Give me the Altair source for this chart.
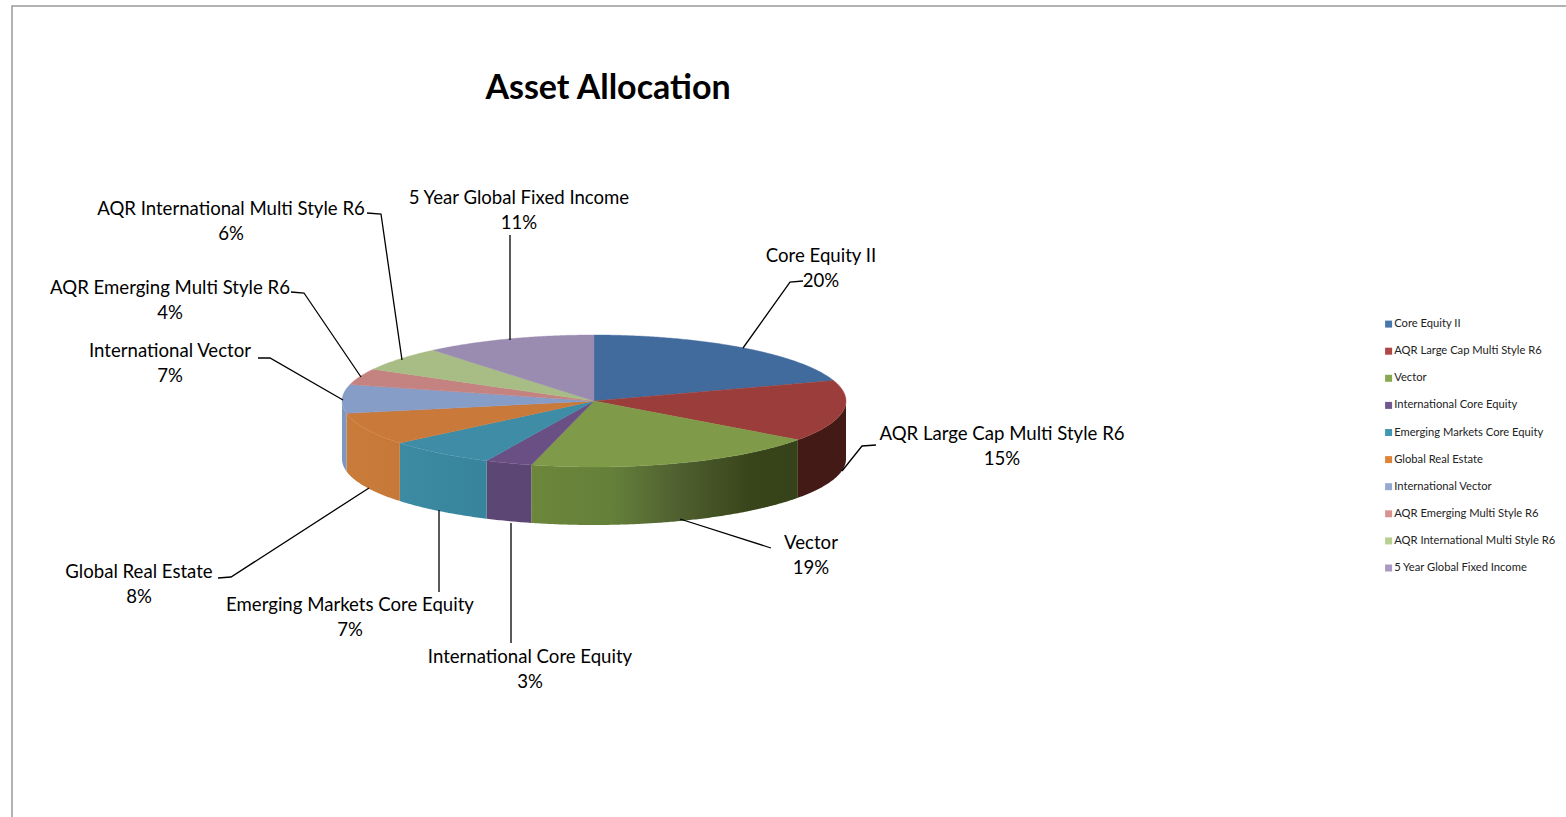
import math
import altair as alt
import pandas as pd

FUNDS = ["Core Equity II", "AQR Large Cap Multi Style R6", "Vector", "International Core Equity",
         "Emerging Markets Core Equity", "Global Real Estate", "International Vector",
         "AQR Emerging Multi Style R6", "AQR International Multi Style R6", "5 Year Global Fixed Income"]
SHARES = [20, 15, 19, 3, 7, 8, 7, 4, 6, 11]

TOP_COLORS = ["#416a9d", "#9b3e3b", "#7f9a48", "#6a4f85", "#3e8ca5",
              "#c9793a", "#859dc7", "#c48280", "#a8bd85", "#998cb0"]
WALL_STOPS = {
    1: [(0, "#441a17"), (1, "#441a17")],
    2: [(0, "#6c863a"), (0.3, "#65803a"), (0.55, "#4f6030"), (0.82, "#38451a"), (1, "#36431a")],
    3: [(0, "#5c4674"), (1, "#5c4674")],
    4: [(0, "#3c8ba3"), (1, "#37849c")],
    5: [(0, "#c97c3a"), (1, "#c67838")],
    6: [(0, "#7e97bf"), (1, "#7e97bf")],
}
LEGEND_COLORS = ["#4a77ab", "#ae4745", "#8aa851", "#72588f", "#4298b0",
                 "#de8439", "#95a9cf", "#d79490", "#b7cf93", "#a99bc1"]

# Disc geometry in page pixels
CX, CY, RX, RY, DEPTH = 594, 401, 252, 66, 58
W, H = 1566, 817


def rim(angle, drop=0):
    a = math.radians(angle)
    return [CX + RX * math.sin(a), CY - RY * math.cos(a) + drop]


def arc_points(a0, a1, drop=0):
    steps = max(2, int(abs(a1 - a0) * 2))
    return [rim(a0 + (a1 - a0) * i / steps, drop) for i in range(steps + 1)]


def feature(ring):
    return {"type": "Feature", "properties": {},
            "geometry": {"type": "Polygon", "coordinates": [ring + [ring[0]]]}}


edges = [0]
for s in SHARES:
    edges.append(edges[-1] + s * 3.6)


def shape_layer(ring, **mark):
    return (alt.Chart(alt.Data(values=[feature(ring)]))
            .mark_geoshape(**mark)
            .project(type="identity", scale=1, translate=[0, 0]))


layers = []

# Page frame
frame = pd.DataFrame({"x": [12, 12, W], "y": [H, 6, 6], "o": [0, 1, 2]})
x_scale = alt.Scale(domain=[0, W], range=[0, W], nice=False, zero=False)
y_scale = alt.Scale(domain=[0, H], range=[0, H], nice=False, zero=False)
X = alt.X("x:Q", scale=x_scale, axis=None)
Y = alt.Y("y:Q", scale=y_scale, axis=None)
layers.append(alt.Chart(frame).mark_line(color="#999999", strokeWidth=1.5)
              .encode(x=X, y=Y, order="o:Q"))

# Side wall of the disc, front half only; gradients run left to right
for i, stops in WALL_STOPS.items():
    a0, a1 = max(edges[i], 90), min(edges[i + 1], 270)
    ring = arc_points(a0, a1) + arc_points(a1, a0, DEPTH)
    fill = alt.Gradient(gradient="linear", x1=0, x2=1, y1=0, y2=0,
                        stops=[alt.GradientStop(offset=o, color=c) for o, c in stops])
    layers.append(shape_layer(ring, fill=fill))

# Top face of each slice
for i, color in enumerate(TOP_COLORS):
    ring = [[CX, CY]] + arc_points(edges[i], edges[i + 1])
    layers.append(shape_layer(ring, fill=color, stroke=color, strokeWidth=0.4))

# Leader lines between slice and label
LEADERS = [
    [(803, 281), (790, 282), (743, 348)],
    [(876, 445), (862, 446), (842, 471)],
    [(771, 548), (680, 519)],
    [(511, 643), (511, 523)],
    [(439, 592), (439, 510)],
    [(218, 578), (231, 577), (369, 488)],
    [(258, 358), (270, 358), (343, 400)],
    [(291, 292), (304, 293), (361, 377)],
    [(367, 213), (381, 214), (402, 360)],
    [(510, 235), (510, 340)],
]
rows = [{"fund": FUNDS[k], "o": n, "x": p[0], "y": p[1]}
        for k, path in enumerate(LEADERS) for n, p in enumerate(path)]
layers.append(alt.Chart(pd.DataFrame(rows)).mark_line(color="#000000", strokeWidth=1.3)
              .encode(x=X, y=Y, detail="fund:N", order="o:Q"))

# Data labels: fund name above its share
LABEL_X = [821, 1002, 811, 530, 350, 139, 170, 170, 231, 519]
LABEL_Y = [256, 434, 543, 657, 605, 572, 351, 288, 209, 198]
label_rows = []
for name, share, lx, ly in zip(FUNDS, SHARES, LABEL_X, LABEL_Y):
    label_rows.append({"t": name, "x": lx, "y": ly})
    label_rows.append({"t": f"{share}%", "x": lx, "y": ly + 25})
layers.append(alt.Chart(pd.DataFrame(label_rows))
              .mark_text(font="Lato", fontSize=18.6, color="#000000", align="center", baseline="middle")
              .encode(x=X, y=Y, text="t:N"))

title = pd.DataFrame({"t": ["Asset Allocation"], "x": [608], "y": [89]})
layers.append(alt.Chart(title)
              .mark_text(font="Lato", fontSize=34, fontWeight="bold", color="#000000", align="center", baseline="middle")
              .encode(x=X, y=Y, text="t:N"))

# Legend carried by an unseen layer so its swatches keep their own palette
legend_src = pd.DataFrame({"fund": FUNDS, "x": [0] * 10, "y": [0] * 10})
layers.append(alt.Chart(legend_src).mark_square(opacity=0, size=1)
              .encode(x=X, y=Y,
                      color=alt.Color("fund:N", scale=alt.Scale(domain=FUNDS, range=LEGEND_COLORS),
                                      legend=alt.Legend(title=None, orient="none", legendX=1383, legendY=318.5,
                                                        symbolType="square", symbolSize=49, symbolOpacity=1,
                                                        symbolStrokeWidth=0, labelFont="Lato", labelFontSize=11.2,
                                                        labelColor="#222222", labelOffset=0, rowPadding=15.1,
                                                        labelLimit=0))))

chart = (alt.layer(*layers)
         .properties(width=W, height=H, padding=0, autosize=alt.AutoSizeParams(type="none"), background="#ffffff")
         .configure_view(stroke=None))

chart.save("out.html", embed_options={"renderer": "svg", "actions": False})
